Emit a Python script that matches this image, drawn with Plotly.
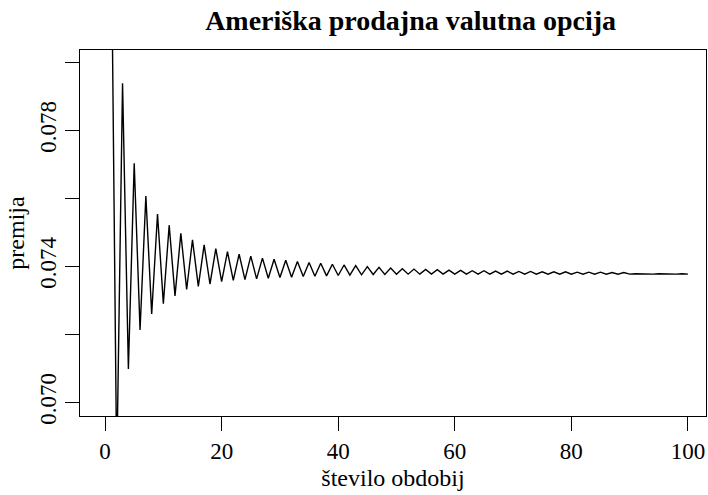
import plotly.graph_objects as go

n_periods = list(range(1, 101))
premium = [
    0.0852, 0.0680, 0.07938, 0.07098, 0.07703, 0.07213, 0.07607, 0.07260, 0.07554, 0.07290,
    0.07521, 0.07313, 0.07497, 0.07332, 0.07478, 0.07341, 0.07463, 0.07348, 0.07452, 0.07355,
    0.07443, 0.07359, 0.07436, 0.07361, 0.07430, 0.07363, 0.07424, 0.07365, 0.07421, 0.07367,
    0.07418, 0.07368, 0.07414, 0.07370, 0.07411, 0.07371, 0.07409, 0.07372, 0.07406, 0.07373,
    0.07404, 0.07374, 0.07402, 0.07375, 0.07399, 0.07376, 0.07397, 0.07376, 0.07395, 0.07377,
    0.07393, 0.07377, 0.07392, 0.07377, 0.07391, 0.07377, 0.07390, 0.07377, 0.07389, 0.07377,
    0.07388, 0.07377, 0.07387, 0.07377, 0.07387, 0.07377, 0.07386, 0.07377, 0.07386, 0.07377,
    0.07385, 0.07377, 0.07385, 0.07377, 0.07384, 0.07377, 0.07384, 0.07377, 0.07384, 0.07377,
    0.07383, 0.07377, 0.07383, 0.07377, 0.07383, 0.07377, 0.07382, 0.07377, 0.07382, 0.07377,
    0.07378, 0.07377, 0.07378, 0.07377, 0.07378, 0.07377, 0.07378, 0.07377, 0.07378, 0.07377,
]

x_ticks = [0, 20, 40, 60, 80, 100]
y_ticks = [0.070, 0.072, 0.074, 0.076, 0.078, 0.080]
y_tick_labels = ["0.070", "", "0.074", "", "0.078", ""]

title_text = "<b>Ameriška prodajna valutna opcija</b>"
x_title = "število obdobij"
y_title = "premija"

FONT = "Liberation Serif"

fig = go.Figure()
fig.add_trace(go.Scatter(
    x=n_periods, y=premium, mode="lines",
    line=dict(color="black", width=1.4),
    showlegend=False, hoverinfo="skip",
))

fig.update_layout(
    width=708, height=495,
    margin=dict(l=80, r=2, t=50, b=79),
    paper_bgcolor="white", plot_bgcolor="white",
    font=dict(family=FONT, size=23, color="black"),
    title=dict(text=title_text, x=0.58, xanchor="center", y=0.96, yanchor="middle",
               font=dict(family=FONT, size=28, color="black")),
)
fig.update_xaxes(
    range=[-4.3, 103.1], tickmode="array", tickvals=x_ticks,
    ticktext=[str(v) for v in x_ticks],
    ticks="outside", ticklen=14, tickwidth=1, tickcolor="black",
    showline=True, linecolor="black", linewidth=1, mirror=True,
    showgrid=False, zeroline=False, automargin=False,
    title=dict(text=x_title, standoff=6, font=dict(family=FONT, size=24)),
    tickfont=dict(family=FONT, size=23),
)
fig.update_yaxes(
    range=[0.06960, 0.08036], tickmode="array", tickvals=y_ticks,
    ticktext=y_tick_labels, tickangle=-90,
    ticks="outside", ticklen=14, tickwidth=1, tickcolor="black",
    showline=True, linecolor="black", linewidth=1, mirror=True,
    showgrid=False, zeroline=False, automargin=False,
    title=dict(text=y_title, standoff=4, font=dict(family=FONT, size=24)),
    tickfont=dict(family=FONT, size=23),
)

fig.write_html(
    "out.html",
    config={"displayModeBar": False},
    post_script="document.body.style.margin='0';document.body.style.overflow='hidden';",
)
